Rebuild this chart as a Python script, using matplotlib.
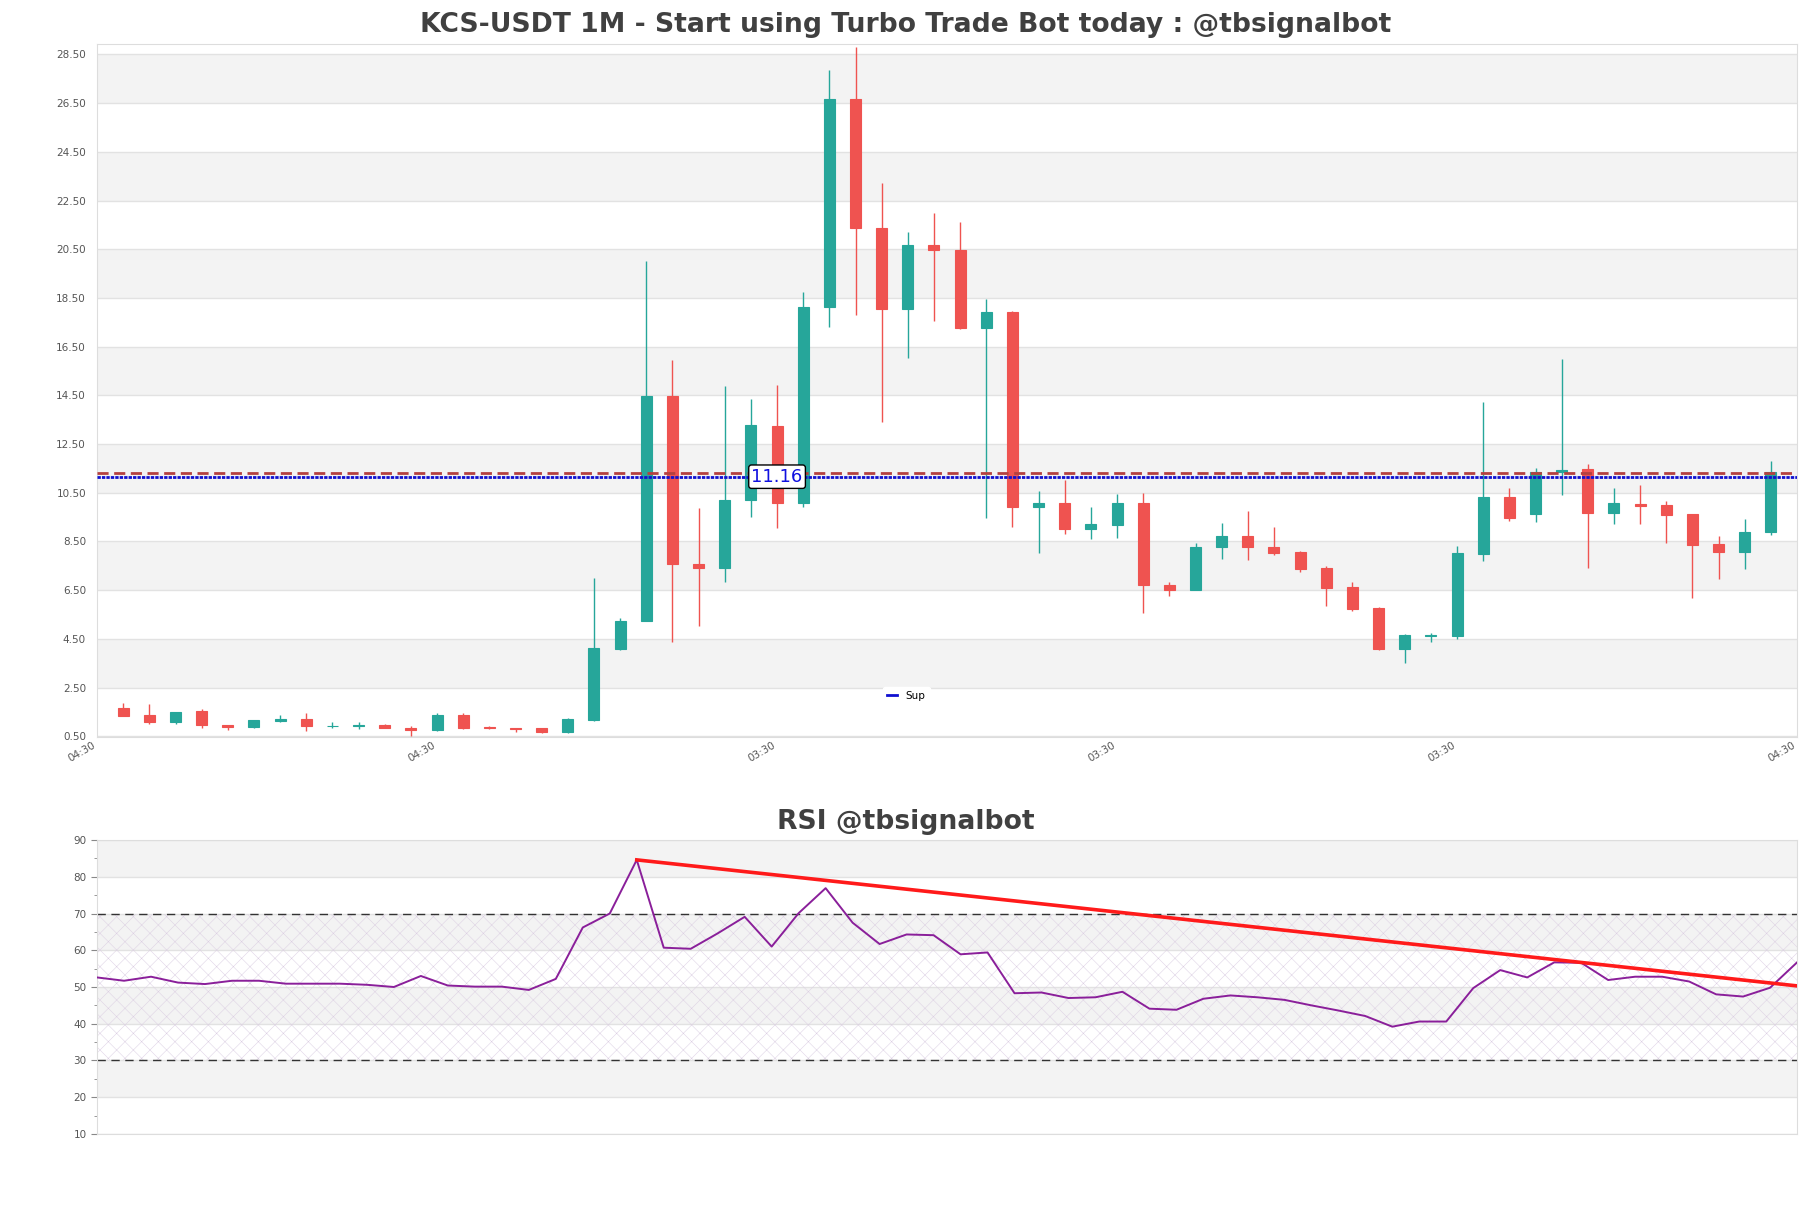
import matplotlib
matplotlib.use("Agg")
import matplotlib.pyplot as plt
import numpy as np

plt.rcParams["hatch.linewidth"] = 0.35

# monthly candles
opens = [1.67, 1.36, 1.08, 1.52, 0.98, 0.87, 1.12, 1.19, 0.91, 0.91,
         0.98, 0.86, 0.75, 1.36, 0.87, 0.86, 0.82, 0.68, 1.16, 4.10,
         5.24, 14.48, 7.59, 7.42, 10.21, 13.26, 10.08, 18.11, 26.69, 21.37,
         18.06, 20.67, 20.47, 17.25, 17.93, 9.90, 10.06, 9.01, 9.17, 10.10,
         6.73, 6.49, 8.27, 8.73, 8.29, 8.05, 7.39, 6.61, 5.75, 4.10,
         4.60, 4.61, 7.97, 10.31, 9.61, 11.36, 11.46, 9.65, 10.05, 9.98,
         9.61, 8.38, 8.05, 8.87]
highs = [1.85, 1.81, 1.51, 1.60, 0.98, 1.15, 1.38, 1.47, 1.07, 1.07,
         1.02, 0.93, 1.44, 1.44, 0.94, 0.86, 0.86, 1.24, 6.98, 5.36,
         20.00, 15.94, 9.88, 14.88, 14.35, 14.92, 18.74, 27.88, 28.81, 23.22,
         21.20, 22.00, 21.60, 18.47, 17.98, 10.58, 11.02, 9.92, 10.43, 10.51,
         6.82, 8.42, 9.24, 9.75, 9.08, 8.10, 7.50, 6.82, 5.82, 4.68,
         4.75, 8.32, 14.21, 10.68, 11.50, 15.98, 11.68, 10.68, 10.82, 10.16,
         9.61, 8.71, 9.42, 11.82]
lows = [1.32, 0.99, 0.99, 0.83, 0.75, 0.84, 1.08, 0.71, 0.86, 0.80,
        0.82, 0.50, 0.73, 0.81, 0.78, 0.67, 0.65, 0.64, 1.12, 4.05,
        5.24, 4.38, 5.03, 6.82, 9.51, 9.07, 9.92, 17.30, 17.82, 13.39,
        16.02, 17.54, 17.21, 9.46, 9.08, 8.01, 8.80, 8.60, 8.65, 5.57,
        6.25, 6.49, 7.80, 7.73, 7.94, 7.23, 5.84, 5.64, 4.03, 3.49,
        4.38, 4.51, 7.69, 9.34, 9.28, 10.40, 7.43, 9.20, 9.20, 8.42,
        6.16, 6.95, 7.36, 8.76]
closes = [1.33, 1.08, 1.51, 0.96, 0.87, 1.15, 1.19, 0.91, 0.94, 0.97,
          0.83, 0.76, 1.36, 0.83, 0.85, 0.80, 0.68, 1.19, 4.14, 5.24,
          14.48, 7.59, 7.42, 10.21, 13.30, 10.08, 18.11, 26.66, 21.37, 18.06,
          20.67, 20.45, 17.25, 17.93, 9.90, 10.06, 9.01, 9.20, 10.10, 6.71,
          6.49, 8.28, 8.73, 8.27, 8.01, 7.36, 6.57, 5.71, 4.10, 4.65,
          4.64, 8.01, 10.31, 9.45, 11.36, 11.45, 9.65, 10.06, 9.95, 9.57,
          8.35, 8.05, 8.90, 11.34]

rsi = [52.6, 51.7, 52.8, 51.2, 50.8, 51.7, 51.7, 50.9, 50.9, 50.9,
       50.6, 50.0, 53.0, 50.4, 50.1, 50.1, 49.2, 52.2, 66.2, 70.0,
       84.6, 60.7, 60.4, 64.6, 69.1, 61.0, 70.1, 76.9, 67.5, 61.7,
       64.3, 64.1, 58.9, 59.4, 48.3, 48.5, 47.0, 47.2, 48.7, 44.1,
       43.8, 46.8, 47.7, 47.2, 46.5, 45.0, 43.6, 42.1, 39.2, 40.6,
       40.6, 49.7, 54.6, 52.6, 56.7, 56.6, 51.9, 52.8, 52.8, 51.5,
       48.0, 47.4, 49.8, 56.7]

trend_x = [20, 63]
trend_y = [84.6, 50.3]

sup_level = 11.16
res_level = 11.30

xtick_pos = [-1, 12, 25, 38, 51, 64]
xtick_labels = ["04:30", "04:30", "03:30", "03:30", "03:30", "04:30"]

up_color = "#26a69a"
down_color = "#ef5350"
grid_color = "#e2e2e2"
band_color = "#f3f3f3"
text_color = "#555555"

fig = plt.figure(figsize=(18.11, 12.08), dpi=100)
ax = fig.add_axes([0.0536, 0.3899, 0.9387, 0.5737])
ax2 = fig.add_axes([0.0536, 0.0613, 0.9387, 0.2433])


def style_axes(a, ticks):
    for s in a.spines.values():
        s.set_color("#dddddd")
    # alternating grey bands between every second pair of gridlines
    for k in range(1, len(ticks) - 1, 2):
        a.axhspan(ticks[k], ticks[k + 1], color=band_color, zorder=0, lw=0)
    for t in ticks:
        a.axhline(t, color=grid_color, lw=1, zorder=0.5)
    a.set_yticks(ticks)
    a.tick_params(axis="y", colors=text_color, labelsize=7.5)


# ---- price panel ----
n = len(opens)
x = np.arange(n)
o = np.array(opens)
c = np.array(closes)
colors = [up_color if cc >= oo else down_color for oo, cc in zip(o, c)]

ax.vlines(x, lows, highs, colors=colors, lw=1, zorder=2)
ax.bar(x, np.abs(c - o), bottom=np.minimum(o, c), width=0.42,
       color=colors, edgecolor=colors, lw=0.8, zorder=3)

ax.axhline(res_level, color="#b5413f", ls=(0, (4, 2)), lw=2, zorder=4)
sup_line, = ax.plot([-1, 64], [sup_level, sup_level], color="#1010d0",
                    ls=(0, (1.2, 0.4)), lw=2, zorder=4, label="Sup")
ax.text(25, sup_level, f"{sup_level:.2f}", color="#1010e0", fontsize=13,
        ha="center", va="center", zorder=6,
        bbox=dict(boxstyle="round,pad=0.15", fc="white", ec="black", lw=1))

yt = np.arange(0.5, 29, 2)
style_axes(ax, yt)
ax.set_yticklabels([f"{v:.2f}" for v in yt])
ax.tick_params(axis="y", length=0, pad=8)
ax.set_ylim(0.47, 28.93)
ax.set_xlim(-1, 64)
ax.set_xticks(xtick_pos)
ax.set_xticklabels(xtick_labels, rotation=30, ha="right", fontsize=7.5,
                   color=text_color)
ax.tick_params(axis="x", length=0, pad=2)

leg = ax.legend(handles=[sup_line], loc="center", bbox_to_anchor=(0.476, 0.059),
                fontsize=7.5, handlelength=1.0, frameon=True, framealpha=1,
                facecolor="white", edgecolor="white", borderpad=0.4)
leg.get_lines()[0].set_linestyle("-")

fig.text(0.5, 0.979, "KCS-USDT 1M - Start using Turbo Trade Bot today : @tbsignalbot",
         fontsize=19.2, fontweight="bold", color="#404040", ha="center", va="center")

# ---- RSI panel ----
rt = np.arange(10, 91, 10)
style_axes(ax2, rt)
xr = np.arange(len(rsi))
ax2.fill_between([0, len(rsi) - 1], 30, 70, facecolor="none",
                 edgecolor="#dccfe3", hatch="xx", lw=0, zorder=1)
ax2.axhline(70, color="#333333", ls=(0, (6, 4)), lw=1, zorder=2)
ax2.axhline(30, color="#333333", ls=(0, (6, 4)), lw=1, zorder=2)
ax2.plot(xr, rsi, color="#8a1f9a", lw=1.4, zorder=3)
ax2.plot(trend_x, trend_y, color="#ff1a1a", lw=2.6, zorder=4)
ax2.set_xlim(0, len(rsi) - 1)
ax2.set_ylim(10, 90)
ax2.set_xticks([])
ax2.set_yticks(np.arange(15, 90, 10), minor=True)
ax2.tick_params(axis="y", which="major", length=4, color="#888888")
ax2.tick_params(axis="y", which="minor", length=2, color="#888888")
fig.text(0.5, 1 - 822 / 1208, "RSI @tbsignalbot", fontsize=19.2,
         fontweight="bold", color="#404040", ha="center", va="center")

fig.savefig("out.png", dpi=100)
